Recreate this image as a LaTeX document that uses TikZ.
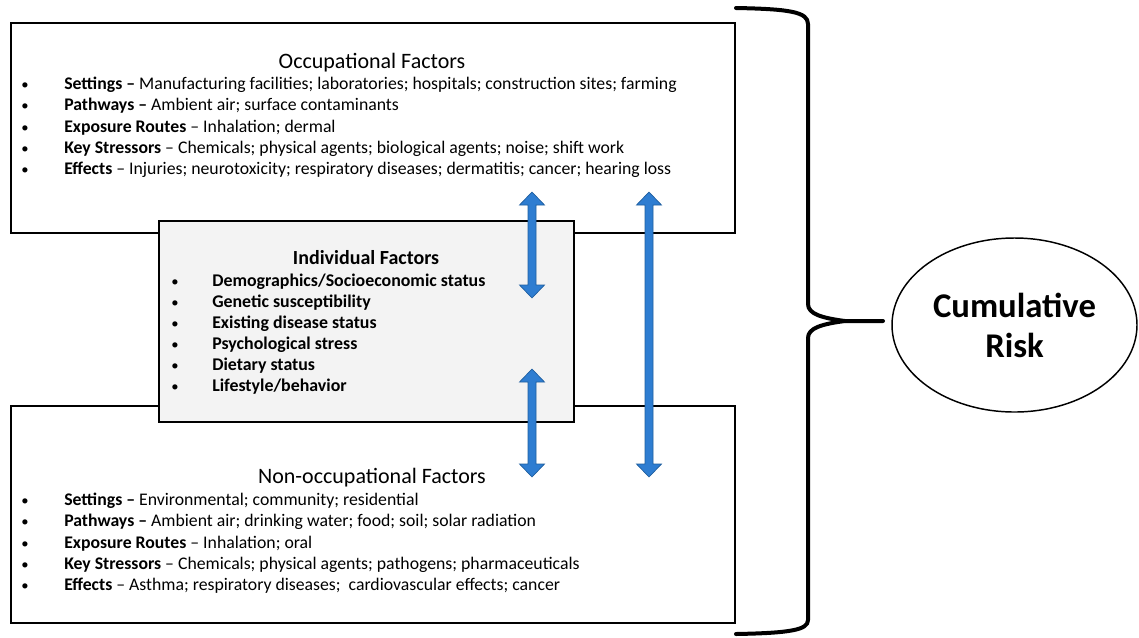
\documentclass[tikz,border=0pt]{standalone}
\usepackage{fontspec}
\setmainfont{Carlito}
\usetikzlibrary{calc,shapes.geometric}
\definecolor{arrowfill}{HTML}{2E7DD1}
\definecolor{arrowline}{HTML}{1F5E9E}
\definecolor{indfill}{HTML}{F3F3F3}
\newcommand{\dblarrow}[2]{%
  \filldraw[arrowstyle] (#1) -- ++(12.5,13) -- ++(-8.5,0) -- ($(#2)+(4,-13)$) -- ++(8.5,0) -- (#2)
    -- ++(-12.5,-13) -- ++(8.5,0) -- ($(#1)+(-4,13)$) -- ++(-8.5,0) -- cycle;}
\begin{document}
\begin{tikzpicture}[x=0.75pt,y=-0.75pt,
  mainbox/.style={draw, line width=1.5pt, fill=white, inner sep=0pt},
  indbox/.style={draw, line width=1.5pt, fill=indfill, inner sep=0pt},
  arrowstyle/.style={fill=arrowfill, draw=arrowline, line width=0.5pt},
  title/.style={inner sep=0pt, font=\fontsize{16.5}{19}\selectfont, anchor=base},
  btitle/.style={inner sep=0pt, font=\fontsize{15}{18}\selectfont\bfseries, anchor=base},
  item/.style={inner sep=0pt, font=\fontsize{13.3}{15}\selectfont, anchor=base west},
  bitem/.style={inner sep=0pt, font=\fontsize{13.4}{15}\selectfont\bfseries, anchor=base west},
  bul/.style={inner sep=0pt, font=\fontsize{11}{14}\selectfont, anchor=base},
  brace/.style={line width=3pt, line cap=round, line join=round},
  risk/.style={draw, ellipse, line width=1.1pt, inner sep=0pt, minimum width=183.75pt, minimum height=130.5pt, align=center, font=\fontsize{26}{30}\selectfont\bfseries}
]
\useasboundingbox (0,0) rectangle (1139,637);

% boxes
\node[mainbox, minimum width=543pt, minimum height=157.5pt] (occ) at (373,128) {};
\node[mainbox, minimum width=543pt, minimum height=162.75pt] (non) at (373,514.5) {};
\node[indbox, minimum width=311.25pt, minimum height=150.75pt] (ind) at (366.5,321.5) {};

% occupational text
\node[title] (occt) at (372,68) {Occupational Factors};
\foreach \y [count=\i] in {89,110.5,132,153.5,174}{
  \node[bul] (ob\i) at (25,\y) {•};
}
\node[item] (o1) at (64,89) {\textbf{Settings –} Manufacturing facilities; laboratories; hospitals; construction sites; farming};
\node[item] (o2) at (64,110.5) {\textbf{Pathways –} Ambient air; surface contaminants};
\node[item] (o3) at (64,132) {\textbf{Exposure Routes} – Inhalation; dermal};
\node[item] (o4) at (64,153.5) {\textbf{Key Stressors} – Chemicals; physical agents; biological agents; noise; shift work};
\node[item] (o5) at (64,174) {\textbf{Effects} – Injuries; neurotoxicity; respiratory diseases; dermatitis; cancer; hearing loss};

% individual text
\node[btitle] (indt) at (366,264) {Individual Factors};
\foreach \y [count=\i] in {286,307,328,349.5,370.5,391.5}{
  \node[bul] (ib\i) at (175,\y) {•};
}
\node[bitem] (i1) at (212,286) {Demographics/Socioeconomic status};
\node[bitem] (i2) at (212,307) {Genetic susceptibility};
\node[bitem] (i3) at (212,328) {Existing disease status};
\node[bitem] (i4) at (212,349.5) {Psychological stress};
\node[bitem] (i5) at (212,370.5) {Dietary status};
\node[bitem] (i6) at (212,391.5) {Lifestyle/behavior};

% non-occupational text
\node[title] (nont) at (372,483) {Non-occupational Factors};
\foreach \y [count=\i] in {505.5,526.5,548,569.5,590.5}{
  \node[bul] (nb\i) at (25,\y) {•};
}
\node[item] (n1) at (64,505.5) {\textbf{Settings –} Environmental; community; residential};
\node[item] (n2) at (64,526.5) {\textbf{Pathways –} Ambient air; drinking water; food; soil; solar radiation};
\node[item] (n3) at (64,548) {\textbf{Exposure Routes} – Inhalation; oral};
\node[item] (n4) at (64,569.5) {\textbf{Key Stressors} – Chemicals; physical agents; pathogens; pharmaceuticals};
\node[item] (n5) at (64,590.5) {\textbf{Effects} – Asthma; respiratory diseases;\ \ cardiovascular effects; cancer};

% arrows
\coordinate (a1t) at (532,192);
\coordinate (a1b) at (532,298);
\coordinate (a2t) at (532,369);
\coordinate (a2b) at (532,477);
\coordinate (a3t) at (649,192);
\coordinate (a3b) at (649,477);
\dblarrow{a1t}{a1b}
\dblarrow{a2t}{a2b}
\dblarrow{a3t}{a3b}

% cumulative risk
\node[risk] (risk) at (1014.5,325) {Cumulative\\Risk};

% brace
\coordinate (btip) at (883,321);
\draw[brace] (736,8) .. controls (790,9) and (808,12) .. (808,24) -- (808,304)
   .. controls (808,314) and (822,318) .. (845,321) -- (btip);
\draw[brace] (845,321) .. controls (822,324) and (808,328) .. (808,338) -- (808,620)
   .. controls (808,630) and (790,633) .. (736,634);
\end{tikzpicture}
\end{document}
